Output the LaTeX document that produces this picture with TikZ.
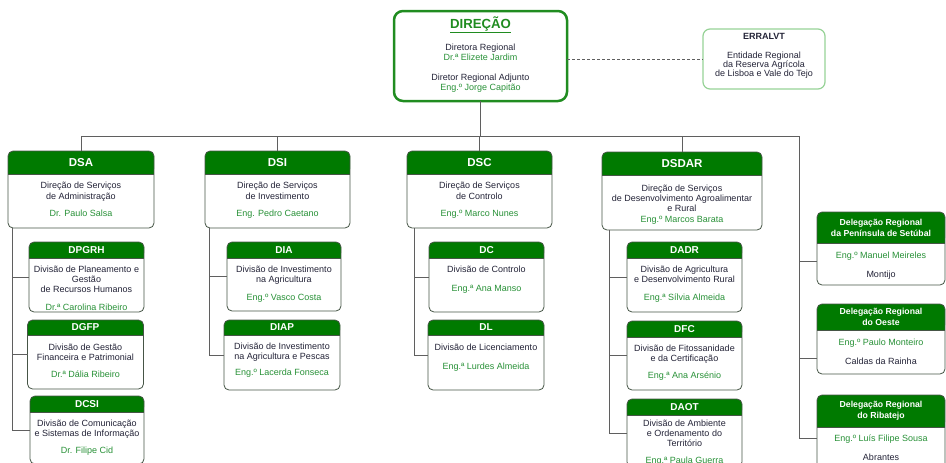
\documentclass[tikz,border=0pt]{standalone}
\usepackage{fontspec}
\setmainfont{Liberation Sans}
\usetikzlibrary{positioning}
\definecolor{hdrgreen}{RGB}{0,122,0}
\definecolor{dirgreen}{RGB}{32,140,32}
\definecolor{errgreen}{RGB}{150,210,150}
\definecolor{namegreen}{RGB}{40,145,55}
\definecolor{bodycol}{RGB}{35,35,55}
\definecolor{linecol}{RGB}{95,95,95}
\definecolor{edgecol}{RGB}{70,85,70}

\tikzset{
  unitbox/.style={fill=white, inner sep=0, outer sep=0},
  unitedge/.style={draw=edgecol, line width=0.8pt},
  hdrtext/.style={text=white, font=\fontsize{10}{11}\selectfont\bfseries, align=center, inner sep=0},
  bodytext/.style={text=bodycol, font=\fontsize{9}{10}\selectfont, align=center, inner sep=0},
  conn/.style={draw=linecol, line width=0.8pt},
  dirbox/.style={draw=dirgreen, line width=2.5pt, rounded corners=9pt, minimum width=173, minimum height=90, inner sep=0, outer sep=0},
  dirtitle/.style={text=dirgreen, font=\fontsize{13.2}{15}\selectfont\bfseries, inner sep=0},
  errbox/.style={draw=errgreen, line width=1.2pt, rounded corners=7pt, minimum width=122, minimum height=60, inner sep=0, outer sep=0}
}

% #1 name, #2 top centre, #3 width, #4 height, #5 header height, #6 header, #7 text offset, #8 text
\newcommand{\orgunit}[8]{%
  \node[unitbox, minimum width=#3, minimum height=#4, anchor=north] (#1) at #2 {};
  \fill[hdrgreen, rounded corners=5pt] (#1.north west) rectangle ([yshift=-#5]#1.north east);
  \fill[hdrgreen] ([yshift=-#5+6]#1.north west) rectangle ([yshift=-#5]#1.north east);
  \draw[unitedge] ([yshift=-#5]#1.north west) -- ([yshift=-#5]#1.north east);
  \draw[unitedge, rounded corners=5pt] (#1.north west) rectangle (#1.south east);
  \node[hdrtext] (#1-t) at ([yshift=-#5/2]#1.north) {#6};
  \node[bodytext, anchor=north] (#1-b) at ([yshift=-#5-#7]#1.north) {#8};
}

\begin{document}
\begin{tikzpicture}[x=1pt,y=-1pt]
\useasboundingbox (0,0) rectangle (946,463);
\clip (0,0) rectangle (946,463);

% direction
\node[dirbox] (dir) at (480.5,56) {};
\node[dirtitle] (dir-t) at (480.5,25) {\underline{DIREÇÃO}};
\node[bodytext] (dir-b) at (480.5,68) {Diretora Regional\\\textcolor{namegreen}{Dr.ª Elizete Jardim}\\[10pt]Diretor Regional Adjunto\\\textcolor{namegreen}{Eng.º Jorge Capitão}};
\node[errbox] (err) at (764,59) {};
\node[bodytext, font=\fontsize{9}{9}\selectfont] (err-b) at (764,55.5) {\textbf{ERRALVT}\\[10pt]Entidade Regional\\da Reserva Agrícola\\de Lisboa e Vale do Tejo};
\draw[conn, dash pattern=on 3pt off 2pt] (dir.east |- err) -- (err.west);

% services
\begin{scope}[hdrtext/.append style={font=\fontsize{11.5}{13}\selectfont\bfseries},
              bodytext/.append style={font=\fontsize{9}{11}\selectfont}]
\orgunit{dsa}{(81,151)}{146}{77}{23}{DSA}{8}{Direção de Serviços\\de Administração\\[6pt]\textcolor{namegreen}{Dr. Paulo Salsa}}
\orgunit{dsi}{(277.5,151)}{145}{77}{23}{DSI}{8}{Direção de Serviços\\de Investimento\\[6pt]\textcolor{namegreen}{Eng. Pedro Caetano}}
\orgunit{dsc}{(479.5,151)}{145}{77}{23}{DSC}{8}{Direção de Serviços\\de Controlo\\[6pt]\textcolor{namegreen}{Eng.º Marco Nunes}}
\orgunit{dsdar}{(682,152)}{160}{78}{23}{DSDAR}{10}{Direção de Serviços\\[-1pt]de Desenvolvimento Agroalimentar\\[-1pt]e Rural\\\textcolor{namegreen}{Eng.º Marcos Barata}}
\end{scope}

% divisions
\orgunit{dpgrh}{(86.5,242)}{115}{70}{16}{DPGRH}{8}{Divisão de Planeamento e\\Gestão\\de Recursos Humanos\\[8pt]\textcolor{namegreen}{Dr.ª Carolina Ribeiro}}
\orgunit{dgfp}{(85.5,320)}{116}{69}{15}{DGFP}{9}{Divisão de Gestão\\Financeira e Patrimonial\\[7pt]\textcolor{namegreen}{Dr.ª Dália Ribeiro}}
\orgunit{dcsi}{(87,396)}{114}{68}{16}{DCSI}{8}{Divisão de Comunicação\\e Sistemas de Informação\\[7pt]\textcolor{namegreen}{Dr. Filipe Cid}}
\orgunit{dia}{(284,242)}{114}{69}{16}{DIA}{8}{Divisão de Investimento\\na Agricultura\\[8pt]\textcolor{namegreen}{Eng.º Vasco Costa}}
\orgunit{diap}{(282,320)}{116}{70}{15}{DIAP}{8}{Divisão de Investimento\\na Agricultura e Pescas\\[6pt]\textcolor{namegreen}{Eng.º Lacerda Fonseca}}
\orgunit{dc}{(486.5,242)}{115}{70}{16}{DC}{8}{Divisão de Controlo\\[9pt]\textcolor{namegreen}{Eng.ª Ana Manso}}
\orgunit{dl}{(486,320)}{116}{70}{15}{DL}{9}{Divisão de Licenciamento\\[9pt]\textcolor{namegreen}{Eng.ª Lurdes Almeida}}
\orgunit{dadr}{(684.5,242)}{115}{70}{16}{DADR}{8}{Divisão de Agricultura\\e Desenvolvimento Rural\\[8pt]\textcolor{namegreen}{Eng.ª Sílvia Almeida}}
\orgunit{dfc}{(684.5,321)}{115}{69}{16}{DFC}{8}{Divisão de Fitossanidade\\e da Certificação\\[7pt]\textcolor{namegreen}{Eng.ª Ana Arsénio}}
\orgunit{daot}{(684.5,399)}{115}{68}{16}{DAOT}{5}{Divisão de Ambiente\\e Ordenamento do\\Território\\[7pt]\textcolor{namegreen}{Eng.ª Paula Guerra}}

% delegations
\begin{scope}[hdrtext/.append style={font=\fontsize{8.7}{11}\selectfont\bfseries}]
\orgunit{dps}{(881,212)}{128}{73}{31}{Delegação Regional\\da Península de Setúbal}{9}{\textcolor{namegreen}{Eng.º Manuel Meireles}\\[9pt]Montijo}
\orgunit{doe}{(881,304)}{128}{70}{26}{Delegação Regional\\do Oeste}{9}{\textcolor{namegreen}{Eng.º Paulo Monteiro}\\[9pt]Caldas da Rainha}
\orgunit{drib}{(881,395)}{128}{76}{32}{Delegação Regional\\do Ribatejo}{8}{\textcolor{namegreen}{Eng.º Luís Filipe Sousa}\\[9pt]Abrantes}
\end{scope}

% connectors
\coordinate (bus) at (480,136);
\coordinate (deleg) at (799,136);
\draw[conn] (dir.south) -- (dir.south |- bus);
\draw[conn] (dsa.north |- bus) -- (deleg);
\foreach \u in {dsa,dsi,dsc,dsdar} \draw[conn] (\u.north |- bus) -- (\u.north);
\foreach \s in {dpgrh,dgfp,dcsi} \draw[conn] ([xshift=4]dsa.south west) |- (\s.west);
\foreach \s in {dia,diap} \draw[conn] ([xshift=4]dsi.south west) |- (\s.west);
\foreach \s in {dc,dl} \draw[conn] ([xshift=7]dsc.south west) |- (\s.west);
\foreach \s in {dadr,dfc,daot} \draw[conn] ([xshift=7]dsdar.south west) |- (\s.west);
\draw[conn] (deleg) |- ([yshift=-43]drib.north west);
\draw[conn] ([yshift=-49]dps.north west) -| (deleg);
\draw[conn] ([yshift=-54]doe.north west) -| (deleg);
\end{tikzpicture}
\end{document}
